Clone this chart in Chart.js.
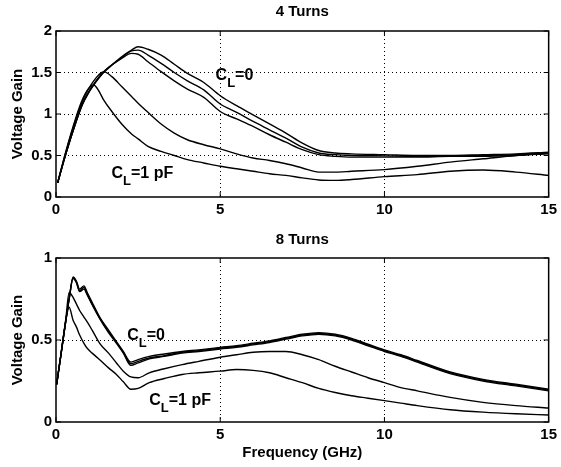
<!DOCTYPE html>
<html>
<head>
<meta charset="utf-8">
<script src="https://cdn.jsdelivr.net/npm/chart.js@4/dist/chart.umd.min.js"></script>
<style>
  body { margin: 0; background: #fff; }
  #wrap { position: relative; width: 561px; height: 467px; }
  canvas { position: absolute; left: 0; }
</style>
</head>
<body>
<div id="wrap">
  <canvas id="topChart" width="561" height="220" style="top:0"></canvas>
  <canvas id="botChart" width="561" height="247" style="top:220px"></canvas>
</div>
<script>
// ---- 4 turns ----
const freqTop = [0.05, 0.3, 0.6, 0.8, 1.0, 1.15, 1.3, 1.45, 1.7, 2.0, 2.3, 2.5, 2.8, 3.2, 3.6, 4.0, 4.5, 5.0, 5.5, 6.0, 6.5, 7.0, 7.5, 8.0, 8.5, 9, 10, 11, 12, 13, 14, 15];
const top_cl0a = [0.17, 0.52, 0.89, 1.11, 1.26, 1.35, 1.43, 1.50, 1.59, 1.69, 1.77, 1.81, 1.78, 1.71, 1.60, 1.49, 1.38, 1.22, 1.10, 0.99, 0.88, 0.77, 0.65, 0.56, 0.53, 0.52, 0.51, 0.50, 0.50, 0.51, 0.52, 0.54];
const top_cl0b = [0.17, 0.52, 0.895, 1.115, 1.265, 1.355, 1.435, 1.505, 1.59, 1.68, 1.76, 1.77, 1.71, 1.61, 1.50, 1.40, 1.29, 1.12, 1.02, 0.91, 0.81, 0.71, 0.60, 0.53, 0.51, 0.50, 0.495, 0.49, 0.495, 0.50, 0.51, 0.53];
const top_cl0c = [0.17, 0.52, 0.90, 1.12, 1.27, 1.36, 1.44, 1.51, 1.59, 1.67, 1.73, 1.72, 1.63, 1.51, 1.40, 1.30, 1.20, 1.03, 0.94, 0.85, 0.75, 0.66, 0.57, 0.51, 0.49, 0.48, 0.48, 0.48, 0.49, 0.49, 0.50, 0.52];
const top_mid = [0.17, 0.54, 0.93, 1.15, 1.31, 1.40, 1.47, 1.51, 1.45, 1.33, 1.21, 1.13, 1.02, 0.88, 0.77, 0.69, 0.63, 0.58, 0.52, 0.47, 0.44, 0.40, 0.35, 0.30, 0.30, 0.31, 0.33, 0.37, 0.42, 0.46, 0.50, 0.53];
const top_cl1 = [0.17, 0.55, 0.95, 1.17, 1.31, 1.35, 1.28, 1.17, 1.03, 0.88, 0.76, 0.70, 0.61, 0.55, 0.50, 0.45, 0.41, 0.37, 0.34, 0.31, 0.28, 0.26, 0.23, 0.205, 0.20, 0.21, 0.245, 0.27, 0.31, 0.325, 0.30, 0.26];

// ---- 8 turns ----
const freqBot = [0.02, 0.15, 0.3, 0.4, 0.52, 0.62, 0.72, 0.85, 0.95, 1.1, 1.33, 1.6, 1.84, 2.05, 2.28, 2.5, 2.84, 3.3, 3.84, 4.35, 5, 5.5, 6, 6.5, 7, 7.5, 8, 8.5, 9, 9.5, 10, 10.5, 11, 12, 13, 14, 15];
const bot_cl0a = [0.23, 0.41, 0.62, 0.75, 0.885, 0.86, 0.81, 0.83, 0.79, 0.73, 0.64, 0.56, 0.49, 0.43, 0.365, 0.38, 0.40, 0.415, 0.43, 0.44, 0.455, 0.465, 0.48, 0.495, 0.515, 0.535, 0.545, 0.535, 0.51, 0.475, 0.44, 0.41, 0.375, 0.305, 0.26, 0.23, 0.20];
const bot_cl0b = [0.23, 0.41, 0.62, 0.75, 0.88, 0.855, 0.80, 0.82, 0.78, 0.72, 0.635, 0.55, 0.485, 0.425, 0.355, 0.37, 0.39, 0.405, 0.425, 0.435, 0.45, 0.46, 0.475, 0.49, 0.51, 0.53, 0.54, 0.53, 0.505, 0.47, 0.435, 0.405, 0.37, 0.30, 0.255, 0.225, 0.195];
const bot_cl0c = [0.23, 0.41, 0.62, 0.75, 0.875, 0.85, 0.795, 0.81, 0.775, 0.715, 0.63, 0.545, 0.48, 0.42, 0.345, 0.36, 0.385, 0.40, 0.42, 0.43, 0.445, 0.455, 0.47, 0.485, 0.505, 0.525, 0.535, 0.525, 0.50, 0.465, 0.43, 0.40, 0.365, 0.295, 0.25, 0.22, 0.19];
const bot_mid = [0.23, 0.41, 0.63, 0.79, 0.76, 0.72, 0.68, 0.64, 0.61, 0.56, 0.48, 0.42, 0.36, 0.31, 0.275, 0.27, 0.30, 0.325, 0.35, 0.37, 0.395, 0.41, 0.425, 0.43, 0.43, 0.41, 0.38, 0.34, 0.305, 0.27, 0.24, 0.21, 0.19, 0.15, 0.12, 0.10, 0.085];
const bot_cl1 = [0.23, 0.41, 0.62, 0.70, 0.62, 0.58, 0.53, 0.48, 0.45, 0.42, 0.38, 0.33, 0.29, 0.245, 0.20, 0.205, 0.24, 0.265, 0.29, 0.30, 0.31, 0.32, 0.315, 0.30, 0.27, 0.24, 0.205, 0.18, 0.16, 0.145, 0.13, 0.115, 0.10, 0.075, 0.06, 0.05, 0.043];

const xTicks = [0, 5, 10, 15];
const xTickLabels = ['0', '5', '10', '15'];
const yTicksTop = [0, 0.5, 1, 1.5, 2];
const yTickLabelsTop = ['0', '0.5', '1', '1.5', '2'];
const yTicksBot = [0, 0.5, 1];
const yTickLabelsBot = ['0', '0.5', '1'];

const FONT = '"Liberation Sans", Arial, Helvetica, sans-serif';

function pts(xs, ys) {
  return xs.map((x, i) => ({ x: x, y: ys[i] }));
}

function series(xs, list) {
  return list.map(ys => ({
    data: pts(xs, ys),
    borderColor: '#000',
    borderWidth: 1.4,
    pointRadius: 0,
    showLine: true,
    fill: false,
    cubicInterpolationMode: 'monotone'
  }));
}

// "C" + subscript "L" + rest, baseline at (x, y)
function drawCL(ctx, x, y, rest) {
  ctx.fillStyle = '#000';
  ctx.textBaseline = 'alphabetic';
  ctx.textAlign = 'left';
  ctx.font = 'bold 16px ' + FONT;
  ctx.fillText('C', x, y);
  const wc = ctx.measureText('C').width;
  ctx.font = 'bold 13px ' + FONT;
  ctx.fillText('L', x + wc, y + 7);
  const wl = ctx.measureText('L').width;
  ctx.font = 'bold 16px ' + FONT;
  ctx.fillText(rest, x + wc + wl, y);
}

const decor = {
  id: 'decor',
  afterDraw(chart, args, opts) {
    const ctx = chart.ctx;
    const a = chart.chartArea;
    const xs = chart.scales.x, ys = chart.scales.y;
    ctx.save();
    ctx.strokeStyle = '#000';
    ctx.lineWidth = 1.5;
    ctx.strokeRect(a.left, a.top, a.right - a.left, a.bottom - a.top);
    ctx.lineWidth = 1;
    xTicks.forEach(v => {
      const px = xs.getPixelForValue(v);
      ctx.beginPath();
      ctx.moveTo(px, a.bottom); ctx.lineTo(px, a.bottom - 5);
      ctx.moveTo(px, a.top); ctx.lineTo(px, a.top + 5);
      ctx.stroke();
    });
    opts.yTicks.forEach(v => {
      const py = ys.getPixelForValue(v);
      ctx.beginPath();
      ctx.moveTo(a.left, py); ctx.lineTo(a.left + 5, py);
      ctx.moveTo(a.right, py); ctx.lineTo(a.right - 5, py);
      ctx.stroke();
    });
    ctx.fillStyle = '#000';
    ctx.font = 'bold 15px ' + FONT;
    ctx.textAlign = 'center';
    ctx.textBaseline = 'middle';
    ctx.fillText(opts.title, (a.left + a.right) / 2, opts.titleY);
    opts.labels.forEach(l => {
      drawCL(ctx, xs.getPixelForValue(l.x), ys.getPixelForValue(l.y), l.rest);
    });
    ctx.restore();
  }
};

function makeChart(id, xs, list, yTicks, yLabels, yMax, opt) {
  return new Chart(document.getElementById(id), {
    type: 'scatter',
    data: { datasets: series(xs, list) },
    plugins: [decor],
    options: {
      responsive: false,
      animation: false,
      layout: { padding: { top: opt.padTop, right: 8, left: 0, bottom: 0 } },
      plugins: {
        legend: { display: false },
        tooltip: { enabled: false },
        decor: { title: opt.title, titleY: opt.titleY, labels: opt.labels, yTicks: yTicks }
      },
      scales: {
        x: {
          type: 'linear', min: 0, max: 15,
          afterBuildTicks: s => { s.ticks = xTicks.map(v => ({ value: v })); },
          afterFit: s => { s.height = opt.xHeight; },
          ticks: {
            color: '#000', padding: 4, font: { family: FONT, size: 15, weight: 'bold' },
            callback: (v, i) => xTickLabels[i]
          },
          grid: {
            drawTicks: false,
            color: c => (c.tick && (c.tick.value === 0 || c.tick.value === 15)) ? 'rgba(0,0,0,0)' : '#000',
            lineWidth: 1
          },
          border: { display: false, dash: [1, 3] },
          title: {
            display: !!opt.xTitle, text: opt.xTitle || '', color: '#000',
            font: { family: FONT, size: 15, weight: 'bold' }, padding: { top: 0, bottom: 5 }
          }
        },
        y: {
          type: 'linear', min: 0, max: yMax,
          afterBuildTicks: s => { s.ticks = yTicks.map(v => ({ value: v })); },
          afterFit: s => { s.width = 56; },
          ticks: {
            color: '#000', padding: 4, font: { family: FONT, size: 15, weight: 'bold' },
            callback: (v, i) => yLabels[i]
          },
          grid: {
            drawTicks: false,
            color: c => (c.tick && (c.tick.value === 0 || c.tick.value === yMax)) ? 'rgba(0,0,0,0)' : '#000',
            lineWidth: 1
          },
          border: { display: false, dash: [1, 3] },
          title: {
            display: true, text: 'Voltage Gain', color: '#000',
            font: { family: FONT, size: 15, weight: 'bold' }, padding: { top: 9, bottom: 0 }
          }
        }
      }
    }
  });
}

makeChart('topChart', freqTop, [top_cl0a, top_cl0b, top_cl0c, top_mid, top_cl1], yTicksTop, yTickLabelsTop, 2, {
  padTop: 31, xHeight: 23, title: '4 Turns', titleY: 12,
  labels: [{ x: 4.86, y: 1.41, rest: '=0' }, { x: 1.69, y: 0.23, rest: '=1 pF' }]
});

makeChart('botChart', freqBot, [bot_cl0a, bot_cl0b, bot_cl0c, bot_mid, bot_cl1], yTicksBot, yTickLabelsBot, 1, {
  padTop: 38, xHeight: 45, title: '8 Turns', titleY: 20, xTitle: 'Frequency (GHz)',
  labels: [{ x: 2.17, y: 0.5, rest: '=0' }, { x: 2.84, y: 0.104, rest: '=1 pF' }]
});
</script>
</body>
</html>
